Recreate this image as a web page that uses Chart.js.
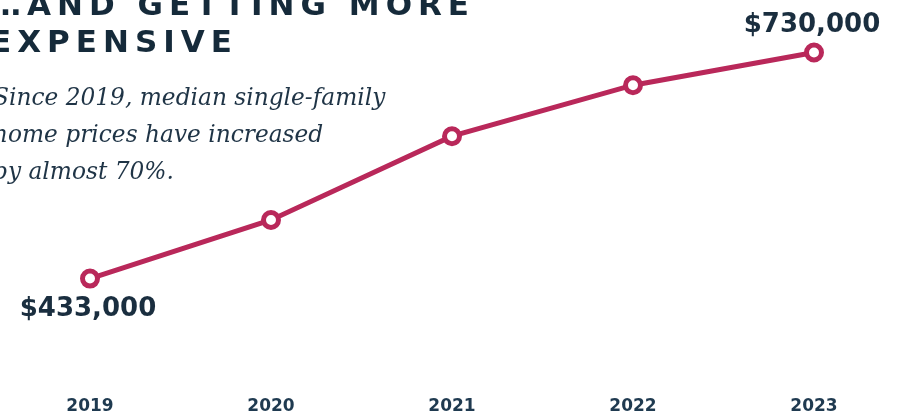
<!DOCTYPE html>
<html>
<head>
<meta charset="utf-8">
<script src="https://cdn.jsdelivr.net/npm/chart.js@4.4.0/dist/chart.umd.min.js"></script>
<style>
  html, body { margin: 0; padding: 0; background: #fff; overflow: hidden; }
  #wrap { position: relative; width: 902px; height: 414px; }
  #chart { position: absolute; left: 0; top: 0; }
  .title {
    position: absolute; left: -10px; top: -14px;
    font-family: 'DejaVu Sans', sans-serif; font-weight: bold;
    font-size: 31px; line-height: 37px; letter-spacing: 6px;
    color: #152a3a; white-space: nowrap;
  }
  .blurb {
    position: absolute; left: -7px; top: 78px;
    font-family: 'DejaVu Serif', serif; font-style: italic;
    font-size: 23.3px; line-height: 37px;
    color: #1f3446; white-space: nowrap;
  }
</style>
</head>
<body>
<div id="wrap">
  <canvas id="chart" width="902" height="414"></canvas>
  <div class="title">…AND GETTING MORE<br>EXPENSIVE</div>
  <div class="blurb">Since 2019, median single-family<br>home prices have increased<br>by almost 70%.</div>
</div>
<script>
  const years = ['2019', '2020', '2021', '2022', '2023'];
  const medianPrice = [433000, 510000, 620000, 687000, 730000];
  const callouts = ['$433,000', null, null, null, '$730,000'];

  const CRIMSON = '#b9285a';
  const NAVY = '#1a2e3f';

  // value labels for first and last points
  const calloutPlugin = {
    id: 'callouts',
    afterDatasetsDraw(chart) {
      const ctx = chart.ctx;
      const meta = chart.getDatasetMeta(0);
      ctx.save();
      ctx.font = "bold 26px 'DejaVu Sans', sans-serif";
      ctx.fillStyle = NAVY;
      ctx.textAlign = 'center';
      ctx.textBaseline = 'middle';
      meta.data.forEach((pt, i) => {
        if (!callouts[i]) return;
        const dy = i === 0 ? 31 : -27;
        ctx.fillText(callouts[i], pt.x - 2, pt.y + dy);
      });
      ctx.restore();
    }
  };

  new Chart(document.getElementById('chart'), {
    type: 'line',
    data: {
      labels: years,
      datasets: [{
        data: medianPrice,
        borderColor: CRIMSON,
        borderWidth: 5,
        pointBackgroundColor: '#fff',
        pointBorderColor: CRIMSON,
        pointBorderWidth: 5,
        pointRadius: 7.5,
        tension: 0
      }]
    },
    options: {
      responsive: false,
      animation: false,
      layout: { padding: { left: 90, right: 88, top: 0, bottom: -11 } },
      plugins: { legend: { display: false }, tooltip: { enabled: false } },
      scales: {
        x: {
          offset: false,
          grid: { display: false },
          border: { display: false },
          ticks: {
            padding: 8,
            color: '#1f3a50',
            font: { family: "'DejaVu Sans', sans-serif", weight: 'bold', size: 17 }
          }
        },
        y: {
          display: false,
          min: 299000,
          max: 782500
        }
      }
    },
    plugins: [calloutPlugin]
  });
</script>
</body>
</html>
